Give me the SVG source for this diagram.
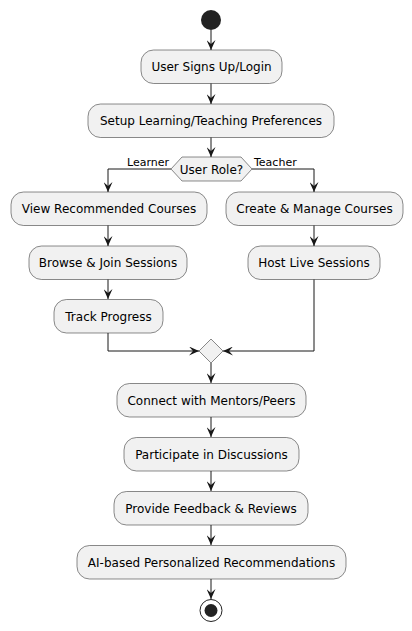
<svg xmlns="http://www.w3.org/2000/svg" width="412" height="631" viewBox="0 0 412 631">
<defs>
<style>
.act{fill:#F1F1F1;stroke:#181818;stroke-width:0.5}
.t{font-family:"DejaVu Sans",sans-serif;font-size:12px;fill:#000000;text-anchor:middle}
.lbl{font-family:"DejaVu Sans",sans-serif;font-size:11px;fill:#000000}
.c{fill:none;stroke:#181818;stroke-width:1}
</style>
<marker id="ah" viewBox="0 0 10 9" refX="10" refY="4.5" markerWidth="10" markerHeight="9" orient="auto" markerUnits="userSpaceOnUse">
<path d="M0,0 L10,4.5 L0,9 L4,4.5 Z" fill="#181818"/>
</marker>
</defs>
<rect width="412" height="631" fill="#FFFFFF"/>
<g id="connectors">
<path class="c" d="M211,30 V50" marker-end="url(#ah)"/>
<path class="c" d="M211,83 V104" marker-end="url(#ah)"/>
<path class="c" d="M211,137 V157" marker-end="url(#ah)"/>
<path class="c" d="M171,169 H108 V192" marker-end="url(#ah)"/>
<path class="c" d="M252,169 H314 V192" marker-end="url(#ah)"/>
<path class="c" d="M108,225 V246" marker-end="url(#ah)"/>
<path class="c" d="M108,279 V299" marker-end="url(#ah)"/>
<path class="c" d="M314,225 V246" marker-end="url(#ah)"/>
<path class="c" d="M108,333 V351 H199" marker-end="url(#ah)"/>
<path class="c" d="M314,279 V351 H223" marker-end="url(#ah)"/>
<path class="c" d="M211,363 V383" marker-end="url(#ah)"/>
<path class="c" d="M211,417 V437" marker-end="url(#ah)"/>
<path class="c" d="M211,471 V491" marker-end="url(#ah)"/>
<path class="c" d="M211,525 V545" marker-end="url(#ah)"/>
<path class="c" d="M211,579 V599" marker-end="url(#ah)"/>
<text class="lbl" x="169" y="166" text-anchor="end">Learner</text>
<text class="lbl" x="254" y="166">Teacher</text>
</g>
<g id="start"><circle cx="211" cy="20" r="10" fill="#222222"/></g>
<g id="n1"><rect class="act" x="141" y="50" width="141" height="33.5" rx="12.5"/><text class="t" x="211.5" y="71">User Signs Up/Login</text></g>
<g id="n2"><rect class="act" x="88" y="104" width="246" height="33.5" rx="12.5"/><text class="t" x="211" y="125">Setup Learning/Teaching Preferences</text></g>
<g id="decision"><polygon class="act" points="171,169 182,157 241,157 252,169 241,181 182,181"/><text class="t" x="211.5" y="173.5">User Role?</text></g>
<g id="n3"><rect class="act" x="11" y="192" width="196" height="33.5" rx="12.5"/><text class="t" x="109" y="213">View Recommended Courses</text></g>
<g id="n4"><rect class="act" x="29" y="246" width="158" height="33.5" rx="12.5"/><text class="t" x="108" y="267">Browse &amp; Join Sessions</text></g>
<g id="n5"><rect class="act" x="54" y="299.5" width="109" height="33.5" rx="12.5"/><text class="t" x="108.5" y="320.5">Track Progress</text></g>
<g id="n6"><rect class="act" x="226" y="192" width="177" height="33.5" rx="12.5"/><text class="t" x="314.5" y="213">Create &amp; Manage Courses</text></g>
<g id="n7"><rect class="act" x="248" y="246" width="132" height="33.5" rx="12.5"/><text class="t" x="314" y="267">Host Live Sessions</text></g>
<g id="merge"><polygon class="act" points="211,339 223,351 211,363 199,351"/></g>
<g id="n8"><rect class="act" x="117" y="383.5" width="189" height="33.5" rx="12.5"/><text class="t" x="211.5" y="404.5">Connect with Mentors/Peers</text></g>
<g id="n9"><rect class="act" x="124" y="437.5" width="175" height="33.5" rx="12.5"/><text class="t" x="211.5" y="458.5">Participate in Discussions</text></g>
<g id="n10"><rect class="act" x="114" y="491.5" width="194" height="33.5" rx="12.5"/><text class="t" x="211" y="512.5">Provide Feedback &amp; Reviews</text></g>
<g id="n11"><rect class="act" x="77" y="545.5" width="269" height="33.5" rx="12.5"/><text class="t" x="211.5" y="566.5">AI-based Personalized Recommendations</text></g>
<g id="end"><circle cx="211" cy="610.5" r="11" fill="none" stroke="#222222" stroke-width="1"/><circle cx="211" cy="610.5" r="6.5" fill="#222222"/></g>
</svg>
